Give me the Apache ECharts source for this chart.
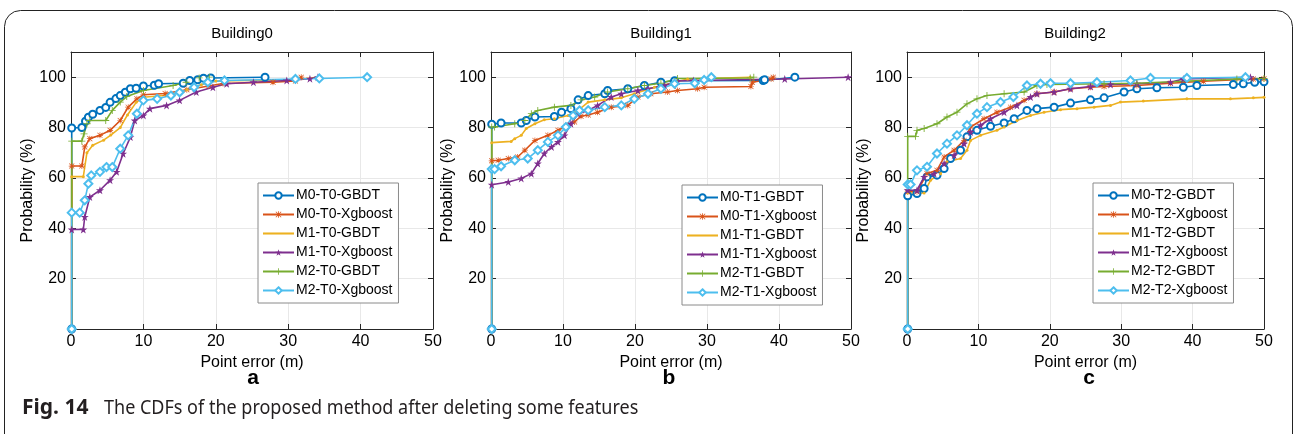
<!DOCTYPE html>
<html>
<head>
<meta charset="utf-8">
<script src="https://cdn.jsdelivr.net/npm/echarts@6/dist/echarts.min.js"></script>
<style>
html,body{margin:0;padding:0;background:#fff;}
#chart{width:1295px;height:434px;}
</style>
</head>
<body>
<div id="chart"></div>
<script>
// ---------- data ----------
const panelTitles = ['Building0', 'Building1', 'Building2'];
const panelLetters = ['a', 'b', 'c'];
const xTicks = [0, 10, 20, 30, 40, 50];
const yTicks = [20, 40, 60, 80, 100];
const namesA = ['M0-T0-GBDT', 'M0-T0-Xgboost', 'M1-T0-GBDT', 'M1-T0-Xgboost', 'M2-T0-GBDT', 'M2-T0-Xgboost'];
const namesB = ['M0-T1-GBDT', 'M0-T1-Xgboost', 'M1-T1-GBDT', 'M1-T1-Xgboost', 'M2-T1-GBDT', 'M2-T1-Xgboost'];
const namesC = ['M0-T2-GBDT', 'M0-T2-Xgboost', 'M1-T2-GBDT', 'M1-T2-Xgboost', 'M2-T2-GBDT', 'M2-T2-Xgboost'];
const captionLead = 'Fig. 14';
const caption = 'The CDFs of the proposed method after deleting some features';

// Building0 (panel a): [point error (m), probability (%)]
const a_M0_GBDT = [[0.1,0],[0.1,79.8],[1.5,80],[2,82.5],[2.4,84.1],[3,85.3],[4,86.8],[4.8,88],[5.4,90],[6.2,91.5],[6.8,92.7],[7.5,94],[8.2,95.4],[9,95.6],[10,96.5],[11.5,96.8],[12.1,97.4],[15.5,97.6],[16.4,98.7],[17.5,99],[18.3,99.6],[19.3,99.7],[26.8,100]];
const a_M0_XGB = [[0.1,0],[0.1,64.7],[1.5,64.7],[1.9,72.3],[2.6,75.6],[4,76.9],[5.4,78.9],[6.8,82.8],[7.9,88.1],[9.1,91.4],[10,93],[13,93.5],[16,95],[19,96.5],[21,97.5],[27.9,98],[31,98.5],[31.8,100]];
const a_M1_GBDT = [[0.1,0],[0.1,60.5],[1.7,60.5],[2.2,70],[3,73],[4.5,75],[5.5,77],[6.8,80],[7.8,85],[9,90],[10,92],[14,93],[16,95],[18,97],[20,98.5],[31,99],[34,100]];
const a_M1_XGB = [[0.1,0],[0.1,39.5],[1.7,39.5],[1.9,44.5],[2.6,52.4],[4,55.1],[5.4,59.1],[6.3,62.4],[7.2,69.6],[8.2,76.2],[8.8,82.8],[10,84.8],[10.9,87.5],[13.2,88.8],[15,90.8],[17.3,94.1],[19.6,96],[21.5,97.4],[25.2,98],[29.8,98.7],[33,99.4],[34.1,100]];
const a_M2_GBDT = [[0.1,0],[0.1,74.6],[1.5,74.6],[1.8,77.5],[2.2,81.5],[2.6,82.8],[4.8,82.8],[5.7,86.8],[6.8,90.1],[7.7,92.3],[10,94.7],[14.1,96.7],[15.9,98],[17.7,99.7],[19.1,100]];
const a_M2_XGB = [[0.1,0],[0.1,46.2],[1.2,46.2],[1.9,51.1],[2.4,57.7],[2.8,61],[4,62.4],[4.9,64.3],[5.7,64.3],[6.8,71.6],[7.9,76.9],[9.1,85.5],[10,90.8],[11.9,91.4],[13.8,92.7],[15,94],[17,96],[18.9,98],[21.2,98.7],[31,99.3],[34.3,99.5],[40.9,100]];

// Building1 (panel b)
const b_M0_GBDT = [[0.1,0],[0.1,81.3],[1.4,81.8],[4.2,81.8],[4.9,82.8],[6.1,84.2],[8.8,84.4],[9.8,86.1],[11.1,87.5],[12.1,91],[13.5,92.7],[15.8,93.4],[16.2,94.7],[19,95.4],[21.3,96.7],[23.6,98],[25.5,98.6],[37.8,98.7],[38,99],[42.2,100]];
const b_M0_XGB = [[0.1,0],[0.1,66.8],[1,67],[2.4,67.7],[3.7,68.3],[4.7,71],[6.1,74.9],[7.9,76.9],[9.3,78.9],[10.7,80.9],[11.6,82.2],[12.5,84.5],[13.5,85],[14.8,86.1],[16.7,88.1],[19,88.8],[20.4,92.1],[22.2,93.4],[24.5,94.1],[25.9,94.7],[28.7,95.4],[29.6,96],[36.1,96.3],[36.3,98],[38.9,99.3],[39.2,100]];
const b_M1_GBDT = [[0.1,0],[0.1,74],[2.8,74.5],[3.3,75.6],[4.2,76.9],[4.9,79.6],[6.1,81.5],[7.4,83.1],[8.8,83.5],[10.7,84.8],[12.1,86.8],[13.5,90.1],[15.8,91],[18.1,91.8],[19.9,93.4],[22.7,96],[25.5,98],[27.3,99.3],[36,100]];
const b_M1_XGB = [[0.1,0],[0.1,57.3],[2.4,58.4],[4.2,59.8],[5.6,61.7],[6.5,65.7],[7.4,69.7],[8.4,72.3],[9.3,74.3],[10.2,76.9],[11.1,81.5],[12.1,85.5],[13.5,86.8],[14.8,88.8],[16.7,92.1],[18.1,93.4],[20.4,94.7],[21.8,95.4],[24.1,96.7],[25.9,98.5],[28.1,98.7],[40.8,99.3],[49.6,100]];
const b_M2_GBDT = [[0.1,0],[0.1,80.2],[0.5,80.2],[3.3,81.5],[4.7,82.8],[5.6,85.5],[6.5,86.8],[8.8,88.1],[11.1,88.8],[12.5,91],[14.4,92.1],[16.2,94.1],[19,95.4],[21.3,96.7],[23.6,97.6],[25.9,99.5],[36,99.7],[36.5,100]];
const b_M2_XGB = [[0.1,0],[0.1,63.5],[0.5,63.5],[1.4,64.6],[3.3,67],[5.1,67.7],[6.5,71],[7.9,74.3],[9.3,76.9],[10.4,80.2],[11.4,84.8],[12.3,86.8],[13.5,86.9],[15.8,88.1],[18.1,88.8],[19.9,91.4],[21.8,93.4],[23.6,95.4],[25.5,97.4],[28.3,97.6],[29.6,98.9],[30.6,100]];

// Building2 (panel c)
const c_M0_GBDT = [[0.1,0],[0.1,52.9],[1.4,53.8],[2.4,55.8],[2.8,60.4],[4.2,61.1],[5.2,63.7],[6.1,67.7],[7.5,71],[8.4,76.3],[9.8,78.9],[11.7,80.5],[13.6,81.8],[15,83.5],[16.8,86.8],[18.2,87.5],[20.6,88.1],[22.9,89.7],[25.7,91],[27.6,91.8],[30.4,94.1],[32.2,95.4],[35,95.8],[38.7,96],[40.6,96.7],[45.7,97.1],[47.1,97.4],[48.7,98],[50,98.2]];
const c_M0_XGB = [[0.1,0],[0.1,54.5],[1.4,54.5],[2.8,61.7],[4.2,63],[5.2,68.3],[6.6,71],[8,74.9],[8.9,80.2],[10.8,83.5],[12.6,86.1],[14.5,88.1],[16.4,90.8],[18.2,93.4],[20.6,94.1],[22.9,95.4],[25.7,96],[27.6,96.3],[32.2,96.7],[36.9,97.6],[41.5,98.4],[48.5,99.3],[50,99.4]];
const c_M1_GBDT = [[0.1,0],[0.1,54],[2.4,54],[3.3,59.1],[4.7,61.7],[5.6,66.4],[7.5,67.7],[8.4,71],[8.9,74.9],[10.3,76.9],[12.6,78.9],[13.6,80.2],[15.4,82.8],[17.3,84.8],[19.2,86.1],[21.5,87.1],[23.8,87.5],[26.2,88.1],[28.5,88.8],[29.9,90.1],[33.1,90.5],[39.2,91.4],[45.3,91.4],[48.5,91.8],[50,92]];
const c_M1_XGB = [[0.1,0],[0.1,55.1],[1.4,55.1],[2.4,60.4],[3.8,61.7],[5.2,65.7],[6.6,69],[8,73.6],[8.9,78.2],[10.3,80.9],[11.7,83.5],[13.6,86.1],[15.4,88.8],[17.3,92.1],[18.2,93.4],[20.6,94.1],[22.9,95.4],[25.7,96.3],[28.5,97.1],[32.2,97.4],[36.9,98],[38.7,99.3],[48.1,100]];
const c_M2_GBDT = [[0.1,0],[0.1,76.5],[1.2,76.5],[1.4,78.9],[2.4,79.6],[4.2,81.5],[5.6,84.2],[7,86.1],[8.4,89.4],[9.8,91.4],[11.2,92.7],[13.6,93.4],[16.4,94.1],[18.2,96.7],[19.6,97.1],[27.6,97.4],[32.2,97.6],[46.2,99.3],[50,99.5]];
const c_M2_XGB = [[0.1,0],[0.1,57.4],[0.5,57.4],[1.4,63],[2.8,64.4],[4.2,69.7],[5.6,73.6],[7,76.9],[8.4,80.9],[9.8,85.5],[11.2,88.1],[13.1,90.1],[14.9,92.1],[16.8,96.7],[18.7,97.4],[20.1,97.6],[22.9,97.6],[26.6,98],[31.3,98.7],[34.1,99.7],[39.2,99.7],[47.4,100]];

// ---------- styling ----------
const FONT = '"Liberation Sans", Arial, Helvetica, sans-serif';
const COLORS = ['#0072BD', '#D95319', '#EDB120', '#7E2F8E', '#77AC30', '#4DBEEE'];
const SYMBOLS = [
  'emptyCircle',
  'path://M4.4,0h1.2v10h-1.2z M0,4.4h10v1.2h-10z M1.2,0.4l8.4,8.4l-0.8,0.8l-8.4,-8.4z M8.8,0.4l0.8,0.8l-8.4,8.4l-0.8,-0.8z',
  'circle',
  'path://M5,0L6.2,3.6L10,3.6L6.9,5.8L8.1,9.5L5,7.3L1.9,9.5L3.1,5.8L0,3.6L3.8,3.6Z',
  'path://M4.4,0h1.2v10h-1.2z M0,4.4h10v1.2h-10z',
  'emptyDiamond'
];
const SIZES = [7, 6, 3, 8, 7, 8];

const GRIDS = [
  {left: 71, top: 52, width: 362, height: 277},
  {left: 491, top: 52, width: 360, height: 277},
  {left: 907, top: 52, width: 357, height: 277}
];
const TITLE_X = [242, 661, 1075];
const LETTER_X = [253, 669, 1089];
const LEGENDS = [{left: 258, top: 183}, {left: 682, top: 185}, {left: 1093, top: 183}];

const panels = [
  {names: namesA, data: [a_M0_GBDT, a_M0_XGB, a_M1_GBDT, a_M1_XGB, a_M2_GBDT, a_M2_XGB]},
  {names: namesB, data: [b_M0_GBDT, b_M0_XGB, b_M1_GBDT, b_M1_XGB, b_M2_GBDT, b_M2_XGB]},
  {names: namesC, data: [c_M0_GBDT, c_M0_XGB, c_M1_GBDT, c_M1_XGB, c_M2_GBDT, c_M2_XGB]}
];

const AX = '#262626';
const xAxes = [], yAxes = [], series = [], legends = [], graphics = [];

panels.forEach((p, i) => {
  xAxes.push({
    type: 'value', gridIndex: i, min: xTicks[0], max: xTicks[xTicks.length - 1], interval: 10,
    name: 'Point error (m)', nameLocation: 'middle', nameGap: 22,
    nameTextStyle: {fontFamily: FONT, fontSize: 16, color: '#000'},
    axisLine: {show: true, onZero: false, lineStyle: {color: AX, width: 1}},
    axisTick: {show: true, inside: true, length: 5, lineStyle: {color: AX}},
    axisLabel: {fontFamily: FONT, fontSize: 16, color: '#000', margin: 5},
    splitLine: {show: true, lineStyle: {color: '#e8e8e8', width: 1}}
  });
  xAxes.push({
    type: 'value', gridIndex: i, position: 'top', min: xTicks[0], max: xTicks[xTicks.length - 1], interval: 10,
    axisLine: {show: true, onZero: false, lineStyle: {color: AX, width: 1}},
    axisTick: {show: true, inside: true, length: 5, lineStyle: {color: AX}},
    axisLabel: {show: false}, splitLine: {show: false}
  });
  yAxes.push({
    type: 'value', gridIndex: i, min: 0, max: 110, interval: 20,
    name: 'Probability (%)', nameLocation: 'middle', nameGap: 23,
    nameTextStyle: {fontFamily: FONT, fontSize: 16, color: '#000'},
    axisLine: {show: true, onZero: false, lineStyle: {color: AX, width: 1}},
    axisTick: {show: true, inside: true, length: 5, lineStyle: {color: AX}},
    axisLabel: {fontFamily: FONT, fontSize: 16, color: '#000', margin: 5,
      formatter: v => (yTicks.indexOf(v) >= 0 ? String(v) : '')},
    splitLine: {show: true, lineStyle: {color: '#e8e8e8', width: 1}}
  });
  yAxes.push({
    type: 'value', gridIndex: i, position: 'right', min: 0, max: 110, interval: 20,
    axisLine: {show: true, onZero: false, lineStyle: {color: AX, width: 1}},
    axisTick: {show: true, inside: true, length: 5, lineStyle: {color: AX}},
    axisLabel: {show: false}, splitLine: {show: false}
  });
  p.names.forEach((nm, k) => {
    series.push({
      type: 'line', name: nm, data: p.data[k],
      xAxisIndex: 2 * i, yAxisIndex: 2 * i,
      symbol: SYMBOLS[k], symbolSize: SIZES[k], showSymbol: true, showAllSymbol: true,
      lineStyle: {color: COLORS[k], width: 1.6},
      itemStyle: {color: COLORS[k], borderWidth: 1.2},
      emphasis: {disabled: true}, animation: false, clip: true
    });
  });
  legends.push({
    show: true,
    data: p.names.map((nm, k) => (k === 2 ? {name: nm, icon: 'path://M0,0h24v1.6h-24z'} : nm)),
    orient: 'vertical',
    left: LEGENDS[i].left, top: LEGENDS[i].top,
    itemWidth: 31, itemHeight: 8, itemGap: 4,
    padding: [5, 6, 5, 4],
    backgroundColor: '#fff', borderColor: '#8a8a8a', borderWidth: 1, borderRadius: 0,
    textStyle: {fontFamily: FONT, fontSize: 14, color: '#000', padding: [0, 0, 0, -3], lineHeight: 15},
    selectedMode: false
  });
  graphics.push({
    type: 'text', x: TITLE_X[i], y: 34,
    style: {text: panelTitles[i], font: '15px ' + FONT, fill: '#000', textAlign: 'center', textVerticalAlign: 'middle'}
  });
  graphics.push({
    type: 'text', x: LETTER_X[i], y: 378,
    style: {text: panelLetters[i], font: 'bold 21px ' + FONT, fill: '#000', textAlign: 'center', textVerticalAlign: 'middle'}
  });
});

graphics.push({
  type: 'text', x: 22, y: 408,
  style: {text: captionLead, font: 'bold 21px "Noto Sans", sans-serif', fill: '#231f20', textVerticalAlign: 'middle'}
});
graphics.push({
  type: 'text', x: 104, y: 408, scaleX: 0.9,
  style: {text: caption, font: '20px "Noto Sans", sans-serif', fill: '#231f20', textVerticalAlign: 'middle'}
});
graphics.push({
  type: 'rect', silent: true,
  shape: {x: 4.5, y: 10.5, width: 1288, height: 440, r: 16},
  style: {fill: 'none', stroke: '#222', lineWidth: 1}
});

const chart = echarts.init(document.getElementById('chart'), null, {renderer: 'canvas'});
chart.setOption({
  backgroundColor: '#fff',
  animation: false,
  grid: GRIDS,
  xAxis: xAxes,
  yAxis: yAxes,
  legend: legends,
  series: series,
  graphic: graphics
});
</script>
</body>
</html>
